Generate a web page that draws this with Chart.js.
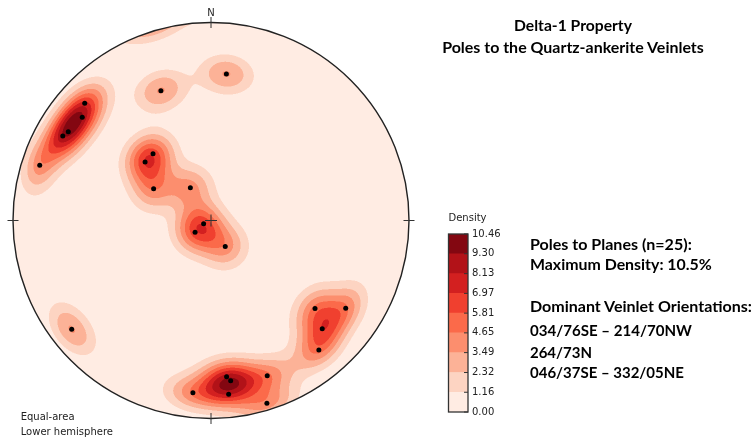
<!DOCTYPE html>
<html><head><meta charset="utf-8">
<script src="https://cdn.jsdelivr.net/npm/chart.js@4/dist/chart.umd.min.js"></script>
<style>
html,body{margin:0;padding:0;background:#fff;width:754px;height:439px;overflow:hidden;}
#wrap{position:relative;width:754px;height:439px;}
canvas{position:absolute;left:0;top:0;}
.t{position:absolute;white-space:nowrap;font-family:Lato,'Open Sans',sans-serif;font-weight:700;color:#000;line-height:1;transform:translateY(-50%);}
.c{transform:translate(-50%,-50%);}
.m{position:absolute;white-space:nowrap;font-family:'DejaVu Sans',sans-serif;font-size:10px;color:#222;line-height:1;transform:translateY(-50%);}
</style></head><body>
<div id="wrap">
<canvas id="net" width="754" height="439"></canvas>
<canvas id="cbar" width="754" height="439"></canvas>
<div class="t c" style="left:573px;top:26px;font-size:15px" data-w="118">Delta-1 Property</div>
<div class="t c" style="left:573px;top:46.7px;font-size:15px" data-w="262">Poles to the Quartz-ankerite Veinlets</div>
<div class="t" style="left:530px;top:243.7px;font-size:16px" data-w="162">Poles to Planes (n=25):</div>
<div class="t" style="left:530px;top:264px;font-size:16px" data-w="182">Maximum Density: 10.5%</div>
<div class="t" style="left:530px;top:305.7px;font-size:16px" data-w="222">Dominant Veinlet Orientations:</div>
<div class="t" style="left:530px;top:331px;font-size:16px" data-w="162">034/76SE – 214/70NW</div>
<div class="t" style="left:530px;top:351.7px;font-size:16px" data-w="62">264/73N</div>
<div class="t" style="left:530px;top:372.3px;font-size:16px" data-w="154">046/37SE – 332/05NE</div>
<div class="m" style="left:20.7px;top:416.5px">Equal-area</div>
<div class="m" style="left:20.7px;top:431.5px">Lower hemisphere</div>
</div>
<script>
// ---- data: poles to veinlets (trend / plunge, degrees) ----
const poleTrend  = [6.0, 338.9, 312.9, 308.7, 301.9, 299.7, 287.9, 319.0, 311.6, 299.0, 327.8, 246.3, 233.6,
                    151.4, 130.2, 123.1, 134.2, 140.2, 232.0, 174.3, 173.0, 160.1, 186.0, 174.2, 163.0];
const polePlunge = [26.5, 30.4, 14.0, 17.8, 16.2, 14.9, 10.0, 53.2, 53.3, 62.9, 74.1, 86.7, 81.9,
                    77.8, 31.8, 19.9, 22.7, 16.0, 11.7, 21.8, 19.6, 17.7, 13.6, 12.8, 3.9];
// density contour levels (colorbar tick labels)
const densityLevels = [0.00, 1.16, 2.32, 3.49, 4.65, 5.81, 6.97, 8.13, 9.30, 10.46];

// ---- styles ----
const bandColors = ['#ffece3','#fdd4c2','#fcb297','#fc8e6e','#fb6a4a','#f0402f','#d32020','#b21218','#830711'];
const KAPPA = 80; // smoothing kernel concentration

// ---- helpers ----
const D2R = Math.PI / 180;
function project(trend, plunge) { // equal-area, lower hemisphere, unit primitive circle
  const t = trend * D2R, th = (90 - plunge) * D2R;
  const r = Math.SQRT2 * Math.sin(th / 2);
  return { x: r * Math.sin(t), y: r * Math.cos(t) };
}
const poleVecs = poleTrend.map((t, i) => {
  const tr = t * D2R, pl = polePlunge[i] * D2R;
  return [Math.cos(pl) * Math.sin(tr), Math.cos(pl) * Math.cos(tr), Math.sin(pl)];
});
function rawDensity(x, y) {
  const r2 = x * x + y * y, s = Math.sqrt(2 - r2);
  const vx = x * s, vy = y * s, vz = 1 - r2;
  let sum = 0;
  for (let k = 0; k < poleVecs.length; k++) {
    const p = poleVecs[k];
    const c = Math.abs(vx * p[0] + vy * p[1] + vz * p[2]);
    sum += Math.exp(KAPPA * (c - 1));
  }
  return sum;
}
function hexToRgb(h) { return [parseInt(h.slice(1,3),16), parseInt(h.slice(3,5),16), parseInt(h.slice(5,7),16)]; }

const densityPlugin = {
  id: 'density',
  beforeDatasetsDraw(chart) {
    const { ctx, chartArea: a, scales: { x: xs, y: ys } } = chart;
    const x0 = Math.floor(a.left), y0 = Math.floor(a.top);
    const w = Math.ceil(a.right) - x0, h = Math.ceil(a.bottom) - y0;
    const SS = 2, n = w * SS, m = h * SS;
    const xv = new Float64Array(n), yv = new Float64Array(m);
    for (let i = 0; i < n; i++) xv[i] = xs.getValueForPixel(x0 + (i + 0.5) / SS);
    for (let j = 0; j < m; j++) yv[j] = ys.getValueForPixel(y0 + (j + 0.5) / SS);
    const field = new Float32Array(n * m).fill(-1);
    let max = 0;
    for (let j = 0; j < m; j++) for (let i = 0; i < n; i++) {
      const X = xv[i], Y = yv[j];
      if (X * X + Y * Y <= 1) { const v = rawDensity(X, Y); field[j * n + i] = v; if (v > max) max = v; }
    }
    const top = densityLevels[densityLevels.length - 1];
    const sc = top / max;
    const rgb = bandColors.map(hexToRgb);
    const nb = densityLevels.length - 1;
    const off = document.createElement('canvas'); off.width = w; off.height = h;
    const octx = off.getContext('2d');
    const img = octx.createImageData(w, h);
    for (let py = 0; py < h; py++) for (let px = 0; px < w; px++) {
      let r = 0, g = 0, b = 0, cnt = 0;
      for (let sj = 0; sj < SS; sj++) for (let si = 0; si < SS; si++) {
        const v = field[(py * SS + sj) * n + px * SS + si];
        if (v < 0) continue;
        const d = v * sc;
        let k = 0;
        while (k < nb - 1 && d >= densityLevels[k + 1]) k++;
        r += rgb[k][0]; g += rgb[k][1]; b += rgb[k][2]; cnt++;
      }
      const o = (py * w + px) * 4;
      if (cnt) { img.data[o] = r / cnt; img.data[o+1] = g / cnt; img.data[o+2] = b / cnt; img.data[o+3] = 255 * cnt / (SS * SS); }
    }
    octx.putImageData(img, 0, 0);
    ctx.drawImage(off, x0, y0);
  },
  afterDatasetsDraw(chart) {
    const { ctx, scales: { x: xs, y: ys } } = chart;
    const cx = xs.getPixelForValue(0), cy = ys.getPixelForValue(0);
    const R = xs.getPixelForValue(1) - cx;
    ctx.save();
    ctx.strokeStyle = '#222'; ctx.lineWidth = 1.4;
    ctx.beginPath(); ctx.arc(cx, cy, R, 0, Math.PI * 2); ctx.stroke();
    ctx.lineWidth = 1; ctx.strokeStyle = '#333';
    const tl = 5.5;
    ctx.beginPath();
    ctx.moveTo(cx, cy - R - tl); ctx.lineTo(cx, cy - R + tl);
    ctx.moveTo(cx, cy + R - tl); ctx.lineTo(cx, cy + R + tl);
    ctx.moveTo(cx - R - tl, cy); ctx.lineTo(cx - R + tl, cy);
    ctx.moveTo(cx + R - tl, cy); ctx.lineTo(cx + R + tl, cy);
    ctx.moveTo(cx - 6, cy); ctx.lineTo(cx + 6, cy);
    ctx.moveTo(cx, cy - 6); ctx.lineTo(cx, cy + 6);
    ctx.stroke();
    ctx.fillStyle = '#222'; ctx.font = '10px "DejaVu Sans"';
    ctx.textAlign = 'center'; ctx.textBaseline = 'middle';
    ctx.fillText('N', cx, cy - R - 9.5);
    ctx.restore();
  }
};

new Chart(document.getElementById('net'), {
  type: 'scatter',
  data: { datasets: [{
    data: poleTrend.map((t, i) => project(t, polePlunge[i])),
    pointRadius: 2.5, pointBackgroundColor: '#000', pointBorderWidth: 0, showLine: false
  }] },
  options: {
    responsive: false, animation: false, devicePixelRatio: 1,
    layout: { padding: { left: 13, right: 345, top: 22.5, bottom: 20.5 } },
    scales: { x: { type: 'linear', min: -1, max: 1, display: false }, y: { type: 'linear', min: -1, max: 1, display: false } },
    plugins: { legend: { display: false }, tooltip: { enabled: false } }
  },
  plugins: [densityPlugin]
});

// ---- colorbar ----
const cbarPlugin = {
  id: 'cbarFrame',
  afterDraw(chart) {
    const { ctx, chartArea: a, scales: { y } } = chart;
    ctx.save();
    ctx.strokeStyle = '#333'; ctx.lineWidth = 1;
    ctx.beginPath();
    densityLevels.forEach(v => { const py = y.getPixelForValue(v); ctx.moveTo(a.right - 4, py); ctx.lineTo(a.right, py); });
    ctx.stroke();
    ctx.lineWidth = 1.3; ctx.strokeRect(a.left, a.top, a.right - a.left, a.bottom - a.top);
    ctx.fillStyle = '#222'; ctx.font = '10px "DejaVu Sans"'; ctx.textBaseline = 'middle'; ctx.textAlign = 'left';
    ctx.fillText('Density', a.left, a.top - 16);
    ctx.restore();
  }
};
const bandValues = densityLevels.slice(1).map((v, i) => v - densityLevels[i]);
new Chart(document.getElementById('cbar'), {
  type: 'bar',
  data: { labels: ['Density'], datasets: bandValues.map((v, i) => ({
    data: [v], backgroundColor: bandColors[i], borderWidth: 0, barPercentage: 1, categoryPercentage: 1, stack: 's'
  })) },
  options: {
    responsive: false, animation: false, devicePixelRatio: 1,
    layout: { padding: { left: 448.5, right: 754 - 468 - 40, top: 234, bottom: 27 } },
    scales: {
      x: { display: false, stacked: true },
      y: { stacked: true, position: 'right', min: 0, max: densityLevels[densityLevels.length - 1],
        afterBuildTicks: s => { s.ticks = densityLevels.map(v => ({ value: v })); },
        afterFit: s => { s.width = 40; },
        grid: { display: false, drawTicks: false }, border: { display: false },
        ticks: { autoSkip: false, padding: 4, color: '#222', font: { family: 'DejaVu Sans', size: 10 }, callback: v => Number(v).toFixed(2) } }
    },
    plugins: { legend: { display: false }, tooltip: { enabled: false } }
  },
  plugins: [cbarPlugin]
});

// fit annotation text widths
document.querySelectorAll('.t').forEach(el => {
  const tw = +el.dataset.w, w = el.getBoundingClientRect().width;
  el.style.fontSize = (parseFloat(getComputedStyle(el).fontSize) * tw / w) + 'px';
});
</script>
</body></html>
